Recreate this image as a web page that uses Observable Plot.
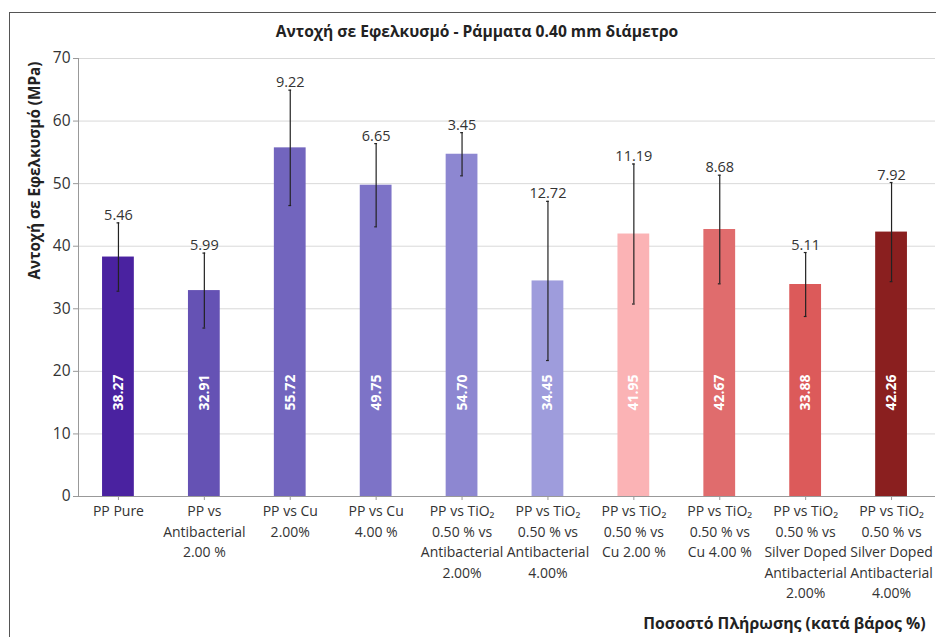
<!DOCTYPE html>
<html>
<head>
<meta charset="utf-8">
<script src="https://cdn.jsdelivr.net/npm/d3@7"></script>
<script src="https://cdn.jsdelivr.net/npm/@observablehq/plot@0.6"></script>
<style>
  html, body { margin: 0; padding: 0; background: #fff; }
  #wrap { position: relative; width: 936px; height: 637px; overflow: hidden; font-family: "Open Sans", sans-serif; }
  #border { position: absolute; left: 9px; top: 12px; width: 930px; height: 640px; border: 1px solid #555; box-sizing: border-box; }
  #title { position: absolute; left: 9px; width: 936px; top: 20px; text-align: center; font-weight: bold; font-size: 15.6px; color: #222; }
  #chart { position: absolute; left: 0; top: 0; }
</style>
</head>
<body>
<div id="wrap">
  <div id="border"></div>
  <div id="chart"></div>
  <div id="title">Αντοχή σε Εφελκυσμό - Ράμματα 0.40 mm διάμετρο</div>
</div>
<script>
const categories = ["PP Pure", "PP vs Antibacterial 2.00 %", "PP vs Cu 2.00%", "PP vs Cu 4.00 %",
  "PP vs TiO2 0.50 % vs Antibacterial 2.00%", "PP vs TiO2 0.50 % vs Antibacterial 4.00%",
  "PP vs TiO2 0.50 % vs Cu 2.00 %", "PP vs TiO2 0.50 % vs Cu 4.00 %",
  "PP vs TiO2 0.50 % vs Silver Doped Antibacterial 2.00%", "PP vs TiO2 0.50 % vs Silver Doped Antibacterial 4.00%"];
const tickLabels = ["PP Pure", "PP vs\nAntibacterial\n2.00 %", "PP vs Cu\n2.00%", "PP vs Cu\n4.00 %",
  "PP vs TiO₂\n0.50 % vs\nAntibacterial\n2.00%", "PP vs TiO₂\n0.50 % vs\nAntibacterial\n4.00%",
  "PP vs TiO₂\n0.50 % vs\nCu 2.00 %", "PP vs TiO₂\n0.50 % vs\nCu 4.00 %",
  "PP vs TiO₂\n0.50 % vs\nSilver Doped\nAntibacterial\n2.00%", "PP vs TiO₂\n0.50 % vs\nSilver Doped\nAntibacterial\n4.00%"];
const means = [38.27, 32.91, 55.72, 49.75, 54.70, 34.45, 41.95, 42.67, 33.88, 42.26];
const sds = [5.46, 5.99, 9.22, 6.65, 3.45, 12.72, 11.19, 8.68, 5.11, 7.92];
const colors = ["#4A22A0", "#6552B4", "#7265BE", "#7D73C7", "#8D87D1", "#9E9CDC", "#FBB3B5", "#E06C6D", "#DC5A5A", "#8A1F1F"];
const yTicks = [0, 10, 20, 30, 40, 50, 60, 70];
const yLabel = "Αντοχή σε Εφελκυσμό (MPa)";
const xLabel = "Ποσοστό Πλήρωσης (κατά βάρος %)";

const data = categories.map((c, i) => ({cat: c, mean: means[i], sd: sds[i], lo: means[i] - sds[i], hi: means[i] + sds[i], color: colors[i]}));
const labelOf = new Map(categories.map((c, i) => [c, tickLabels[i]]));

const chart = Plot.plot({
  width: 936, height: 637,
  marginLeft: 78, marginTop: 58, marginBottom: 141, marginRight: 5,
  style: {fontFamily: "'Open Sans', sans-serif", background: "transparent", color: "#333"},
  x: {domain: categories, paddingInner: 0.63, paddingOuter: 0.28, round: false, axis: null},
  y: {domain: [0, 70], axis: null},
  marks: [
    Plot.gridY(yTicks.slice(1), {stroke: "#d9d9d9", strokeOpacity: 1, insetRight: -4}),
    Plot.barY(data, {x: "cat", y: "mean", fill: "color"}),
    Plot.ruleX(data, {x: "cat", y1: "lo", y2: "hi", stroke: "#222", strokeWidth: 1.2}),
    Plot.tickY(data, {x: "cat", y: "lo", stroke: "#222", strokeWidth: 1.2, insetLeft: 14.5, insetRight: 14.5}),
    Plot.tickY(data, {x: "cat", y: "hi", stroke: "#222", strokeWidth: 1.2, insetLeft: 14.5, insetRight: 14.5}),
    Plot.text(data, {x: "cat", y: "hi", text: d => d.sd.toFixed(2), lineAnchor: "bottom", dy: -3, fontSize: 14.5, fill: "#333"}),
    Plot.text(data, {x: "cat", y: () => 0, text: d => d.mean.toFixed(2), rotate: -90, dy: -104, fontSize: 14, fontWeight: "bold", fill: "#fff"}),
    Plot.ruleY([0], {stroke: "#999", insetRight: -4}),
    Plot.frame({anchor: "left", stroke: "#999"}),
    Plot.axisY({ticks: yTicks, tickSize: 5, tickPadding: 3, fontSize: 15.5, label: null, stroke: "#999", color: "#333"}),
    Plot.axisX({tickFormat: d => labelOf.get(d), tickSize: 4, tickPadding: 1, fontSize: 14, lineHeight: 1.47, label: null, stroke: "#999", color: "#333"}),
    Plot.text([yLabel], {frameAnchor: "top-left", text: d => d, rotate: -90, textAnchor: "end", dx: -49, dy: 3, fontSize: 15.3, fontWeight: "bold", fill: "#222"}),
    Plot.text([xLabel], {frameAnchor: "bottom-right", text: d => d, textAnchor: "end", dx: -6, dy: 132, fontSize: 15.8, fontWeight: "bold", fill: "#222"})
  ]
});
document.getElementById("chart").appendChild(chart);
</script>
</body>
</html>
